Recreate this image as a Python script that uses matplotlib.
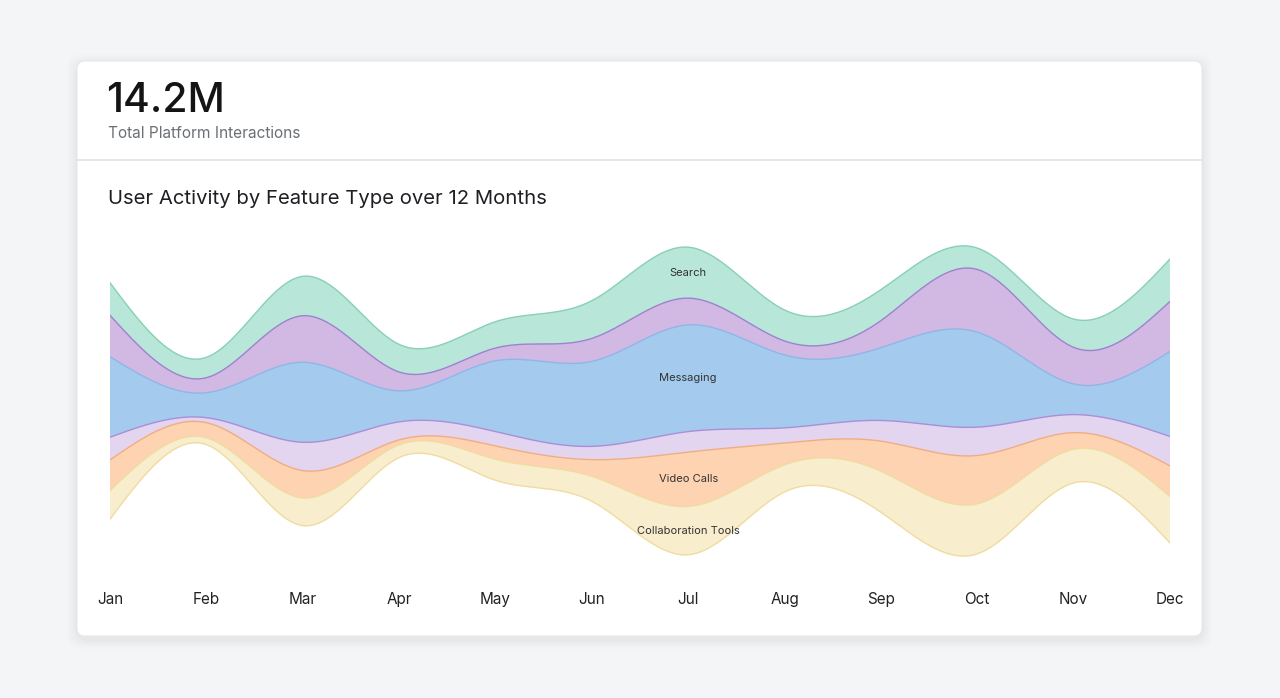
#!/usr/bin/env python3
"""Streamgraph card: user activity by feature type over 12 months."""
import matplotlib
matplotlib.use("Agg")
import matplotlib.pyplot as plt
from matplotlib.patches import FancyBboxPatch
import numpy as np

plt.rcParams["font.family"] = ["Inter", "DejaVu Sans"]

# ── data (thousands of interactions) ─────────────────────────────────────────
MONTHS = ["Jan", "Feb", "Mar", "Apr", "May", "Jun",
          "Jul", "Aug", "Sep", "Oct", "Nov", "Dec"]

# stacked bottom -> top
SERIES = ["Collaboration Tools", "Video Calls", "File Sharing",
          "Messaging", "Social Feed", "Search"]

collab    = [162, 38, 157, 72, 119, 141, 273, 153, 232, 283, 190, 263]
video     = [173, 86, 154, 28, 75, 94, 307, 124, 170, 273, 94, 173]
files     = [128, 28, 160, 102, 81, 75, 116, 85, 117, 160, 102, 166]
messaging = [455, 141, 452, 175, 400, 480, 603, 412, 411, 537, 173, 480]
social    = [234, 85, 263, 107, 72, 130, 151, 79, 153, 354, 207, 283]
search    = [184, 115, 223, 156, 149, 213, 288, 175, 175, 121, 160, 240]

LABEL_MIN = 200   # layers thinner than this at the label month get no label

# ── palette ──────────────────────────────────────────────────────────────────
PAGE_BG = "#f4f5f7"
CARD    = "#ffffff"
FILLS = ["#f8edcc", "#fdd3b1", "#e3d5f0", "#a4caed", "#d2b9e3", "#b8e6d8"]
EDGES = ["#f0dba0", "#f0ad82", "#a98fd8", "#8fb6e6", "#9d82cf", "#88d0b6"]


def natural(x, y, n=40):
    """Natural cubic spline through the points (like d3.curveNatural)."""
    x = np.asarray(x, float)
    y = np.asarray(y, float)
    m = len(y)
    h = x[1] - x[0]
    A = np.zeros((m, m))
    b = np.zeros(m)
    A[0, 0] = A[-1, -1] = 1
    for i in range(1, m - 1):
        A[i, i - 1], A[i, i], A[i, i + 1] = 1, 4, 1
        b[i] = 6 * (y[i + 1] - 2 * y[i] + y[i - 1]) / h**2
    M = np.linalg.solve(A, b)
    xs, ys = [], []
    for i in range(m - 1):
        u = np.linspace(0, 1, n, endpoint=(i == m - 2))
        a, c = 1 - u, u
        xs.append(x[i] + u * h)
        ys.append(a * y[i] + c * y[i + 1]
                  + ((a**3 - a) * M[i] + (c**3 - c) * M[i + 1]) * h**2 / 6)
    return np.concatenate(xs), np.concatenate(ys)


# ── figure + card ────────────────────────────────────────────────────────────
W, H = 1280, 698
fig = plt.figure(figsize=(W / 100, H / 100), dpi=100)
fig.patch.set_facecolor(PAGE_BG)

bg = fig.add_axes([0, 0, 1, 1])
bg.set_xlim(0, W)
bg.set_ylim(H, 0)
bg.axis("off")

# soft shadow
for k, a in enumerate([0.006, 0.008, 0.010, 0.012, 0.016]):
    grow = 10 - 2 * k
    bg.add_patch(FancyBboxPatch((77 - grow, 64 - grow), 1125 + 2 * grow, 575 + 2 * grow,
                                boxstyle="round,pad=0,rounding_size=14",
                                facecolor="#000000", edgecolor="none", alpha=a, zorder=1))
bg.add_patch(FancyBboxPatch((77, 61), 1125, 575,
                            boxstyle="round,pad=0,rounding_size=8",
                            facecolor=CARD, edgecolor="#e6e8eb", linewidth=0.8, zorder=2))
bg.plot([77, 1202], [159.5, 159.5], color="#e1e3e6", linewidth=1.2, zorder=3)

bg.text(106, 101, "14.2M", fontsize=29.5, color="#141414", va="center", ha="left",
        fontweight="medium", zorder=4)
bg.text(108, 133, "Total Platform Interactions", fontsize=11.1, color="#6b7075",
        va="center", ha="left", zorder=4)
bg.text(108, 199, "User Activity by Feature Type over 12 Months", fontsize=14.6,
        color="#1d1f22", va="center", ha="left", zorder=4)

# ── streamgraph ──────────────────────────────────────────────────────────────
ax = fig.add_axes([110 / W, 1 - 570 / H, 1060 / W, 340 / H])
ax.patch.set_alpha(0)

values = np.array([collab, video, files, messaging, social, search], dtype=float)
x = np.arange(len(MONTHS))
total = values.sum(axis=0)
baseline = -total / 2                      # silhouette offset
bounds = np.vstack([baseline, baseline + np.cumsum(values, axis=0)])

curves = [natural(x, b) for b in bounds]
for i in range(len(SERIES)):
    xs, lo = curves[i]
    _, hi = curves[i + 1]
    ax.fill_between(xs, lo, hi, facecolor=FILLS[i], edgecolor="none", zorder=2)
    ax.plot(xs, hi, color=EDGES[i], linewidth=1.0, zorder=3)
    if i == 0:
        ax.plot(xs, lo, color=EDGES[i], linewidth=1.0, zorder=3)

# labels at the month with the largest total
peak = int(np.argmax(total))
for i, name in enumerate(SERIES):
    if values[i, peak] >= LABEL_MIN:
        mid = (bounds[i, peak] + bounds[i + 1, peak]) / 2
        ax.text(x[peak], mid, name, ha="center", va="center", fontsize=8,
                color="#333333", zorder=4)

ax.set_xlim(0, len(MONTHS) - 1)
ax.set_ylim(-955, 966)
ax.set_xticks(x)
ax.set_xticklabels(MONTHS, fontsize=11, color="#222222")
ax.tick_params(axis="x", length=0, pad=16)
ax.set_yticks([])
for spine in ax.spines.values():
    spine.set_visible(False)

fig.savefig("out.png", dpi=100, facecolor=PAGE_BG)
